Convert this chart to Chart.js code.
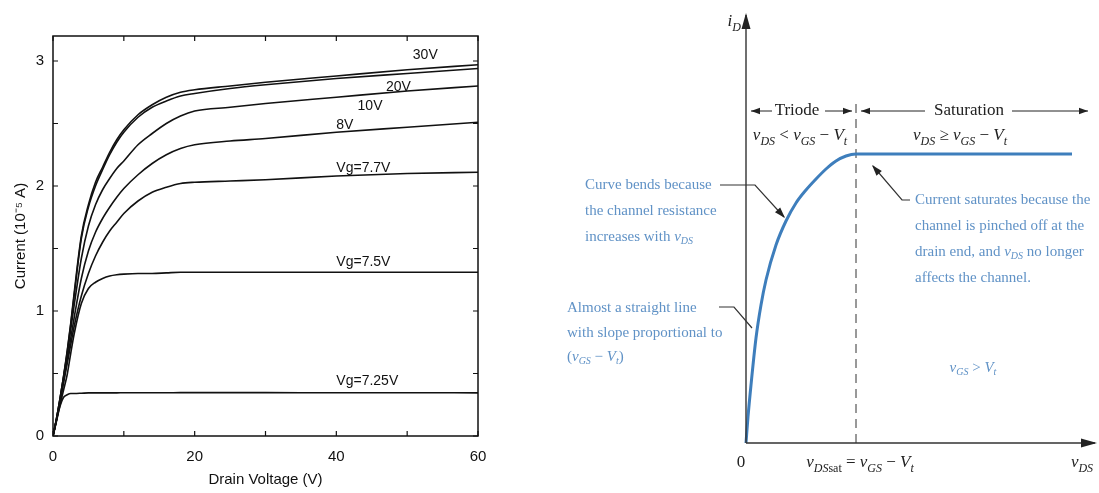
<!DOCTYPE html>
<html>
<head>
<meta charset="utf-8">
<script src="https://cdn.jsdelivr.net/npm/chart.js@4.4.0/dist/chart.umd.min.js"></script>
<style>
html, body { margin: 0; padding: 0; background: #fff; overflow: hidden; }
#left { position: absolute; left: 0; top: 0; }
#right { position: absolute; left: 560px; top: 0; }
</style>
</head>
<body>
<canvas id="left" width="530" height="493"></canvas>
<canvas id="right" width="539" height="493"></canvas>
<script>
// ---- left panel: measured drain curves (current in 1e-5 A) ----
var drainV = [0, 0.5, 1, 1.5, 2, 2.5, 3, 4, 5, 6, 7, 8, 9, 10, 12, 14, 16, 18, 20, 25, 30, 40, 50, 60];
var id30  = [0, 0.14, 0.30, 0.48, 0.68, 0.90, 1.15, 1.60, 1.85, 2.03, 2.15, 2.27, 2.37, 2.45, 2.57, 2.65, 2.71, 2.75, 2.77, 2.80, 2.83, 2.88, 2.93, 2.97];
var id20  = [0, 0.14, 0.30, 0.48, 0.67, 0.89, 1.13, 1.58, 1.83, 2.00, 2.13, 2.25, 2.35, 2.43, 2.55, 2.63, 2.68, 2.72, 2.74, 2.78, 2.81, 2.86, 2.90, 2.94];
var id10  = [0, 0.14, 0.30, 0.47, 0.65, 0.85, 1.05, 1.42, 1.68, 1.85, 1.97, 2.06, 2.14, 2.20, 2.33, 2.42, 2.50, 2.56, 2.60, 2.63, 2.66, 2.71, 2.76, 2.80];
var id8   = [0, 0.13, 0.28, 0.44, 0.60, 0.78, 0.95, 1.26, 1.48, 1.63, 1.74, 1.83, 1.91, 1.98, 2.09, 2.18, 2.25, 2.30, 2.33, 2.36, 2.38, 2.43, 2.47, 2.51];
var id77  = [0, 0.13, 0.28, 0.43, 0.58, 0.73, 0.88, 1.12, 1.30, 1.44, 1.55, 1.64, 1.71, 1.78, 1.88, 1.95, 1.99, 2.02, 2.03, 2.04, 2.05, 2.08, 2.10, 2.11];
var id75  = [0, 0.12, 0.25, 0.37, 0.49, 0.66, 0.82, 1.06, 1.18, 1.23, 1.26, 1.28, 1.29, 1.295, 1.30, 1.30, 1.305, 1.31, 1.31, 1.31, 1.31, 1.31, 1.31, 1.31];
var id725 = [0, 0.13, 0.24, 0.31, 0.33, 0.34, 0.34, 0.342, 0.345, 0.345, 0.345, 0.345, 0.345, 0.346, 0.346, 0.346, 0.346, 0.347, 0.347, 0.347, 0.347, 0.346, 0.346, 0.345];
var gateNames = ['30V', '20V', '10V', '8V', 'Vg=7.7V', 'Vg=7.5V', 'Vg=7.25V'];
var xTicks = [0, 20, 40, 60];
var yTicks = [0, 1, 2, 3];

// where the gate labels sit (data units)
var labelX = [50.8, 47, 43, 40, 40, 40, 40];
var labelY = [3.05, 2.79, 2.64, 2.49, 2.14, 1.39, 0.44];

// ---- right panel: schematic iD-vDS curve (arbitrary units) ----
var vds = [0, 2, 5, 10, 15, 20, 30, 40, 50, 60, 70, 80, 90, 100, 110, 326];
var iD  = [0, 26, 58, 105, 138, 163, 198, 222, 240, 253, 264, 274, 282, 287, 289, 289];
var vdsSat = [110, 110];
var satLine = [0, 345];

var sans = '"Liberation Sans", Arial, sans-serif';
var ink = '#111';

function pts(xs, ys) {
    return xs.map(function (x, i) { return { x: x, y: ys[i] }; });
}

var curves = [id30, id20, id10, id8, id77, id75, id725];

var leftFrame = {
    id: 'leftFrame',
    afterDraw: function (chart) {
        var ctx = chart.ctx, a = chart.chartArea;
        var sx = chart.scales.x, sy = chart.scales.y;
        ctx.save();
        ctx.strokeStyle = ink;
        ctx.lineWidth = 1.5;
        ctx.strokeRect(a.left, a.top, a.right - a.left, a.bottom - a.top);
        ctx.lineWidth = 1.2;
        ctx.beginPath();
        for (var v = 0; v <= 60; v += 10) {
            var px = sx.getPixelForValue(v);
            ctx.moveTo(px, a.bottom); ctx.lineTo(px, a.bottom - 5);
            ctx.moveTo(px, a.top); ctx.lineTo(px, a.top + 5);
        }
        for (var w = 0; w <= 3; w += 0.5) {
            var py = sy.getPixelForValue(w);
            ctx.moveTo(a.left, py); ctx.lineTo(a.left + 5, py);
            ctx.moveTo(a.right, py); ctx.lineTo(a.right - 5, py);
        }
        ctx.stroke();
        ctx.fillStyle = ink;
        ctx.font = '14px ' + sans;
        ctx.textAlign = 'left';
        ctx.textBaseline = 'middle';
        gateNames.forEach(function (n, i) {
            ctx.fillText(n, sx.getPixelForValue(labelX[i]), sy.getPixelForValue(labelY[i]));
        });
        ctx.restore();
    }
};

new Chart(document.getElementById('left').getContext('2d'), {
    type: 'line',
    data: {
        datasets: curves.map(function (c, i) {
            return {
                label: gateNames[i],
                data: pts(drainV, c),
                borderColor: ink,
                borderWidth: 1.6,
                pointRadius: 0,
                cubicInterpolationMode: 'monotone',
                fill: false
            };
        })
    },
    options: {
        responsive: false,
        animation: false,
        layout: { padding: { top: 36, right: 52, left: 0, bottom: 0 } },
        plugins: { legend: { display: false }, tooltip: { enabled: false } },
        scales: {
            x: {
                type: 'linear', min: 0, max: 60,
                afterBuildTicks: function (s) { s.ticks = xTicks.map(function (v) { return { value: v }; }); },
                afterFit: function (s) { s.height = 57; },
                ticks: { padding: 12, maxRotation: 0, color: ink, font: { family: sans, size: 15 } },
                grid: { display: false, drawTicks: false },
                border: { display: false },
                title: { display: true, text: 'Drain Voltage (V)', color: ink, font: { family: sans, size: 15 }, padding: { top: 2, bottom: 4 } }
            },
            y: {
                min: 0, max: 3.2,
                afterBuildTicks: function (s) { s.ticks = yTicks.map(function (v) { return { value: v }; }); },
                afterFit: function (s) { s.width = 53; },
                ticks: { padding: 9, color: ink, font: { family: sans, size: 15 } },
                grid: { display: false, drawTicks: false },
                border: { display: false },
                title: { display: true, text: 'Current (10\u207B\u2075 A)', color: ink, font: { family: sans, size: 15 }, padding: { top: 12, bottom: 4 } }
            }
        }
    },
    plugins: [leftFrame]
});

// ---- right panel annotations ----
var blue = 'rgb(96,146,198)';
var serif = '"Liberation Serif", "Times New Roman", serif';

function sub(b, s) { return [[b, 'i'], [s, 's']]; }
var vDS = sub('v', 'DS'), vGS = sub('v', 'GS'), Vt = sub('V', 't');

function rich(ctx, parts, x, y, align, size, color) {
    parts = parts.map(function (p) { return typeof p === 'string' ? [p, ''] : p; });
    function fontOf(st) {
        var small = st === 's' || st === 'u';
        var it = st === 'i' || st === 's';
        return (it ? 'italic ' : '') + Math.round(small ? size * 0.68 : size) + 'px ' + serif;
    }
    var w = 0;
    parts.forEach(function (p) { ctx.font = fontOf(p[1]); w += ctx.measureText(p[0]).width; });
    var cx = align === 'center' ? x - w / 2 : (align === 'right' ? x - w : x);
    ctx.fillStyle = color;
    ctx.textAlign = 'left';
    ctx.textBaseline = 'middle';
    parts.forEach(function (p) {
        ctx.font = fontOf(p[1]);
        var dy = (p[1] === 's' || p[1] === 'u') ? size * 0.32 : 0;
        ctx.fillText(p[0], cx, y + dy);
        cx += ctx.measureText(p[0]).width;
    });
}

function head(ctx, x0, y0, x1, y1, len, half) {
    var ang = Math.atan2(y1 - y0, x1 - x0);
    ctx.beginPath();
    ctx.moveTo(x1, y1);
    ctx.lineTo(x1 - len * Math.cos(ang) + half * Math.sin(ang), y1 - len * Math.sin(ang) - half * Math.cos(ang));
    ctx.lineTo(x1 - len * Math.cos(ang) - half * Math.sin(ang), y1 - len * Math.sin(ang) + half * Math.cos(ang));
    ctx.closePath();
    ctx.fill();
}

var flat = function (a) { return [].concat.apply([], a.map(function (p) { return Array.isArray(p) && Array.isArray(p[0]) ? p : [p]; })); };

var blueText = [
    { x: -161, y: 258, t: ['Curve bends because'] },
    { x: -161, y: 232, t: ['the channel resistance'] },
    { x: -161, y: 206, t: flat(['increases with ', vDS]) },
    { x: -179, y: 135, t: ['Almost a straight line'] },
    { x: -179, y: 110, t: ['with slope proportional to'] },
    { x: -179, y: 86, t: flat(['(', vGS, ' \u2212 ', Vt, ')']) },
    { x: 169, y: 243, t: ['Current saturates because the'] },
    { x: 169, y: 217, t: ['channel is pinched off at the'] },
    { x: 169, y: 191, t: flat(['drain end, and ', vDS, ' no longer']) },
    { x: 169, y: 165, t: ['affects the channel.'] }
];

var rightDeco = {
    id: 'rightDeco',
    afterDraw: function (chart) {
        var ctx = chart.ctx;
        var sx = chart.scales.x, sy = chart.scales.y;
        var X = function (v) { return sx.getPixelForValue(v); };
        var Y = function (v) { return sy.getPixelForValue(v); };
        ctx.save();
        // axes with arrowheads
        ctx.strokeStyle = '#333';
        ctx.fillStyle = '#222';
        ctx.lineWidth = 1.4;
        ctx.beginPath();
        ctx.moveTo(X(0), Y(0)); ctx.lineTo(X(0), Y(428));
        ctx.moveTo(X(0), Y(0)); ctx.lineTo(X(349), Y(0));
        ctx.stroke();
        head(ctx, X(0), Y(0), X(0), Y(430), 16, 4.5);
        head(ctx, X(0), Y(0), X(351), Y(0), 16, 4.5);

        // region arrows
        ctx.lineWidth = 1;
        ctx.strokeStyle = '#222';
        var ay = Y(332);
        [[26, 5], [79, 106], [179, 115], [266, 342]].forEach(function (s) {
            ctx.beginPath();
            ctx.moveTo(X(s[0]), ay); ctx.lineTo(X(s[1]), ay);
            ctx.stroke();
            head(ctx, X(s[0]), ay, X(s[1]), ay, 9, 3.2);
        });
        rich(ctx, ['Triode'], X(51), ay, 'center', 17, '#222');
        rich(ctx, ['Saturation'], X(223), ay, 'center', 17, '#222');
        rich(ctx, flat([vDS, ' < ', vGS, ' \u2212 ', Vt]), X(54), Y(307), 'center', 17, '#222');
        rich(ctx, flat([vDS, ' \u2265 ', vGS, ' \u2212 ', Vt]), X(214), Y(307), 'center', 17, '#222');

        // i_D label and bottom labels
        rich(ctx, sub('i', 'D'), X(-5), Y(421), 'right', 17, '#222');
        rich(ctx, ['0'], X(-5), Y(-20), 'center', 17, '#222');
        rich(ctx, flat([vDS, ['sat', 'u'], ' = ', vGS, ' \u2212 ', Vt]), X(114), Y(-20), 'center', 17, '#222');
        rich(ctx, vDS, X(336), Y(-20), 'center', 17, '#222');

        // leader lines
        ctx.strokeStyle = '#333';
        ctx.lineWidth = 1.2;
        ctx.beginPath();
        ctx.moveTo(X(-26), Y(258)); ctx.lineTo(X(9), Y(258)); ctx.lineTo(X(38), Y(226));
        ctx.moveTo(X(-27), Y(136)); ctx.lineTo(X(-12), Y(136)); ctx.lineTo(X(6), Y(115));
        ctx.moveTo(X(164), Y(243)); ctx.lineTo(X(156), Y(243)); ctx.lineTo(X(127), Y(277));
        ctx.stroke();
        ctx.fillStyle = '#222';
        head(ctx, X(9), Y(258), X(39), Y(225), 11, 3.5);
        head(ctx, X(156), Y(243), X(126), Y(278), 11, 3.5);

        // blue explanations
        blueText.forEach(function (b) { rich(ctx, b.t, X(b.x), Y(b.y), 'left', 15, blue); });
        rich(ctx, flat([vGS, ' > ', Vt]), X(227), Y(75), 'center', 15, blue);
        ctx.restore();
    }
};

new Chart(document.getElementById('right').getContext('2d'), {
    type: 'scatter',
    data: {
        datasets: [
            {
                data: pts(vds, iD),
                showLine: true,
                borderColor: 'rgb(62,126,188)',
                borderWidth: 3,
                pointRadius: 0,
                cubicInterpolationMode: 'monotone',
                clip: false
            },
            {
                data: pts(vdsSat, satLine),
                showLine: true,
                borderColor: '#333',
                borderWidth: 1,
                borderDash: [9, 6],
                pointRadius: 0,
                clip: false
            }
        ]
    },
    options: {
        responsive: false,
        animation: false,
        layout: { padding: { left: 186, right: 3, top: 13, bottom: 50 } },
        plugins: { legend: { display: false }, tooltip: { enabled: false } },
        scales: {
            x: { type: 'linear', min: 0, max: 350, display: false },
            y: { min: 0, max: 430, display: false }
        }
    },
    plugins: [rightDeco]
});
</script>
</body>
</html>
